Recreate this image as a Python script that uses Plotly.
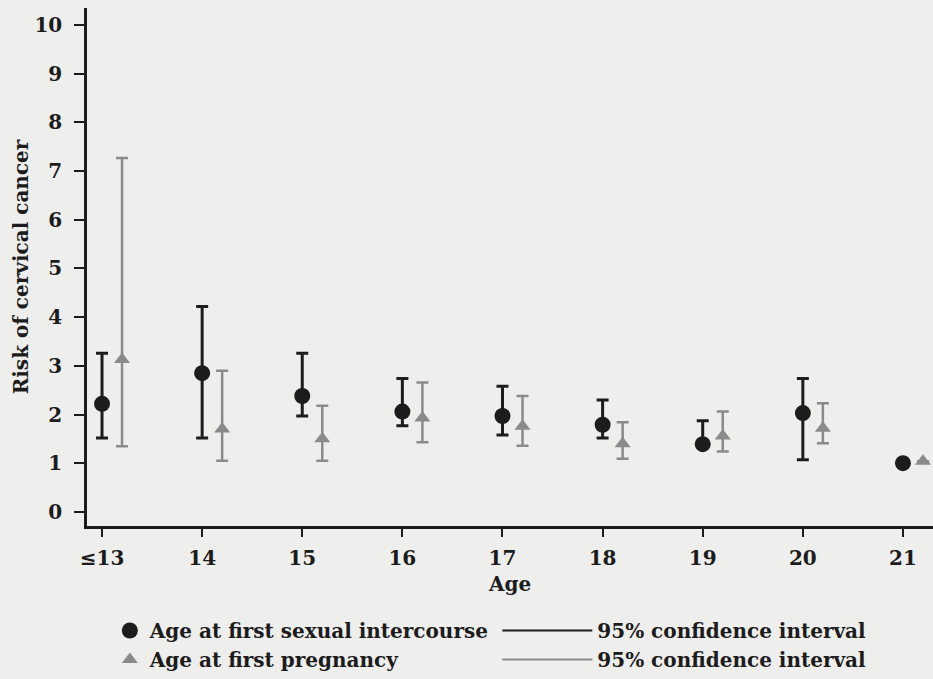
import plotly.graph_objects as go

# ---- data ----
age_labels = ["≤13", "14", "15", "16", "17", "18", "19", "20", "21"]

sex_rr = [2.22, 2.85, 2.38, 2.06, 1.97, 1.79, 1.39, 2.03, 1.00]
sex_lo = [1.52, 1.52, 1.97, 1.77, 1.58, 1.52, 1.33, 1.07, 1.00]
sex_hi = [3.26, 4.22, 3.26, 2.74, 2.58, 2.30, 1.87, 2.74, 1.00]

preg_rr = [3.13, 1.70, 1.50, 1.93, 1.76, 1.40, 1.56, 1.72, 1.04]
preg_lo = [1.35, 1.05, 1.05, 1.43, 1.36, 1.09, 1.24, 1.41, 1.04]
preg_hi = [7.27, 2.90, 2.18, 2.66, 2.38, 1.84, 2.06, 2.23, 1.04]

y_ticks = [0, 1, 2, 3, 4, 5, 6, 7, 8, 9, 10]

# ---- styling ----
FONT = "DejaVu Serif"
BLACK = "#1c1c1c"
GRAY = "#8a8a8a"
BG = "#eeeeec"
OFFSET = 0.2
FS = 20

xs = list(range(len(age_labels)))
xs_preg = [x + OFFSET for x in xs]

fig = go.Figure()

fig.add_trace(go.Scatter(
    x=xs, y=sex_rr, mode="markers",
    name="Age at first sexual intercourse",
    marker=dict(symbol="circle", size=16, color=BLACK),
    error_y=dict(type="data", symmetric=False,
                 array=[h - v for h, v in zip(sex_hi, sex_rr)],
                 arrayminus=[v - l for v, l in zip(sex_rr, sex_lo)],
                 color=BLACK, thickness=3, width=6),
    legend="legend", legendgroup="a",
))
fig.add_trace(go.Scatter(
    x=xs_preg, y=preg_rr, mode="markers",
    name="Age at first pregnancy",
    marker=dict(symbol="triangle-up", size=14, color=GRAY),
    error_y=dict(type="data", symmetric=False,
                 array=[h - v for h, v in zip(preg_hi, preg_rr)],
                 arrayminus=[v - l for v, l in zip(preg_rr, preg_lo)],
                 color=GRAY, thickness=2.5, width=6),
    legend="legend", legendgroup="b",
))
# legend-only entries for the confidence interval keys
fig.add_trace(go.Scatter(
    x=[None], y=[None], mode="lines", name="95% confidence interval",
    line=dict(color=BLACK, width=2), legend="legend2", legendgroup="c",
))
fig.add_trace(go.Scatter(
    x=[None], y=[None], mode="lines", name="95% confidence interval",
    line=dict(color=GRAY, width=2), legend="legend2", legendgroup="d",
))

bold = dict(family=FONT, size=FS, color=BLACK, weight="bold")

fig.update_layout(
    width=933, height=679,
    paper_bgcolor=BG, plot_bgcolor=BG,
    margin=dict(l=87, r=0, t=8, b=152),
    font=bold,
    showlegend=True,
    legend=dict(x=0.027, y=-0.163, xanchor="left", yanchor="top",
                orientation="v", bgcolor="rgba(0,0,0,0)",
                font=bold, tracegroupgap=0),
    legend2=dict(x=0.485, y=-0.163, xanchor="left", yanchor="top",
                 orientation="v", bgcolor="rgba(0,0,0,0)",
                 font=bold, tracegroupgap=0, itemwidth=90),
    xaxis=dict(
        range=[-0.15, 8.30], tickmode="array", tickvals=xs, ticktext=age_labels,
        showline=True, linecolor=BLACK, linewidth=2.5,
        ticks="outside", ticklen=8, tickwidth=2, tickcolor=BLACK,
        showgrid=False, zeroline=False, ticklabelstandoff=4,
        tickfont=bold,
        title=dict(text="Age", standoff=9, font=bold),
    ),
    yaxis=dict(
        range=[-0.29, 10.35], tickmode="array", tickvals=y_ticks,
        showline=True, linecolor=BLACK, linewidth=2.5,
        ticks="outside", ticklen=10, tickwidth=2, tickcolor=BLACK,
        showgrid=False, zeroline=False, ticklabelstandoff=8,
        tickfont=bold,
        title=dict(text="Risk of cervical cancer", standoff=1, font=bold),
    ),
)

fig.write_html("out.html")
